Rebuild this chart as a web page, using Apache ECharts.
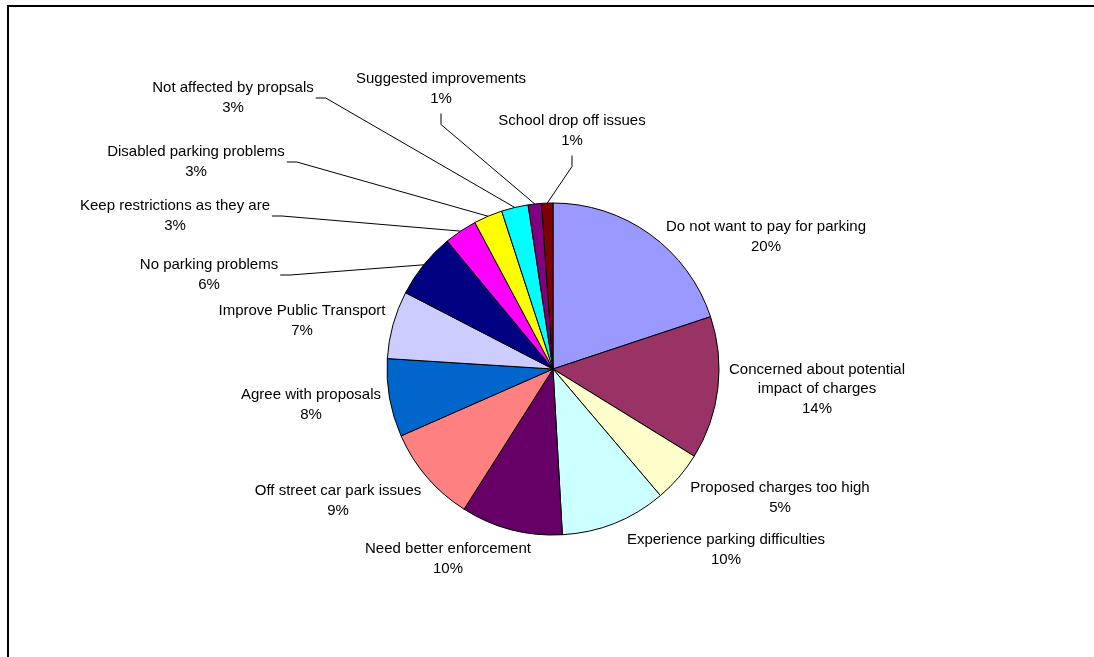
<!DOCTYPE html>
<html lang="en">
  <head>
    <meta charset="UTF-8" />
    <title>Parking consultation comments</title>
    <script src="https://cdn.jsdelivr.net/npm/echarts@6.0.0/dist/echarts.min.js"></script>
    <style>
      html, body { margin: 0; padding: 0; background: #fff; }
    </style>
  </head>
  <body>
    <div id="main" style="width: 1094px; height: 657px"></div>
    <script type="text/javascript">
      // comment categories, clockwise from 12 o'clock
      const categories = [
        'Do not want to pay for parking',
        'Concerned about potential\nimpact of charges',
        'Proposed charges too high',
        'Experience parking difficulties',
        'Need better enforcement',
        'Off street car park issues',
        'Agree with proposals',
        'Improve Public Transport',
        'No parking problems',
        'Keep restrictions as they are',
        'Disabled parking problems',
        'Not affected by propsals',
        'Suggested improvements',
        'School drop off issues',
      ];
      // share of comments (%)
      const values = [19.9, 13.9, 5.0, 10.3, 9.9, 9.4, 7.6, 6.6, 6.4, 3.2, 2.8, 2.6, 1.3, 1.1];

      // Excel 2003 default palette
      const colors = [
        '#9999FF', '#993366', '#FFFFCC', '#CCFFFF', '#660066', '#FF8080', '#0066CC',
        '#CCCCFF', '#000080', '#FF00FF', '#FFFF00', '#00FFFF', '#800080', '#800000',
      ];

      // where each label sits (text centre) and how its leader line leaves it
      const labelSpots = [
        [766, 237], [817, 389], [780, 498], [726, 550], [448, 559], [338, 501], [311, 405],
        [302, 321], [209, 275], [175, 216], [196, 162], [233, 98], [441, 89], [572, 131],
      ];
      const leaders = [null, null, null, null, null, null, null, null,
        'right', 'right', 'right', 'right', 'bottom', 'bottom'];

      const chart = echarts.init(document.getElementById('main'));

      const option = {
        animation: false,
        graphic: [
          {
            type: 'rect',
            shape: { x: 8, y: 6, width: 1300, height: 900 },
            style: { fill: 'none', stroke: '#000', lineWidth: 2 },
            silent: true,
          },
        ],
        series: [
          {
            type: 'pie',
            center: [553, 369],
            radius: 166,
            startAngle: 90,
            clockwise: true,
            avoidLabelOverlap: false,
            itemStyle: { borderColor: '#000', borderWidth: 1 },
            emphasis: { disabled: true },
            label: {
              show: true,
              position: 'outside',
              fontFamily: 'Liberation Sans, Arial, sans-serif',
              fontSize: 15,
              lineHeight: 19.5,
              color: '#000',
              align: 'center',
              formatter: (p) => p.name + '\n' + Math.round(p.percent) + '%',
            },
            labelLine: {
              show: true,
              length: 10,
              length2: 10,
              smooth: false,
              lineStyle: { color: '#000', width: 1 },
            },
            labelLayout: (params) => {
              const i = params.dataIndex;
              const [x, y] = labelSpots[i];
              const out = { x, y, align: 'center', verticalAlign: 'middle' };
              const kind = leaders[i];
              if (kind && params.labelLinePoints) {
                const rim = params.labelLinePoints[0];
                const w = params.labelRect.width;
                const h = params.labelRect.height;
                let start, elbow;
                if (kind === 'right') {
                  start = [x + w / 2 + 2, y];
                  elbow = [x + w / 2 + 12, y];
                } else {
                  start = [x, y + h / 2 + 5];
                  elbow = [x, y + h / 2 + 16];
                }
                out.labelLinePoints = [rim, elbow, start];
              }
              return out;
            },
            data: categories.map((name, i) => ({
              name,
              value: values[i],
              itemStyle: { color: colors[i] },
              labelLine: { show: leaders[i] !== null },
            })),
          },
        ],
      };

      chart.setOption(option);
    </script>
  </body>
</html>
